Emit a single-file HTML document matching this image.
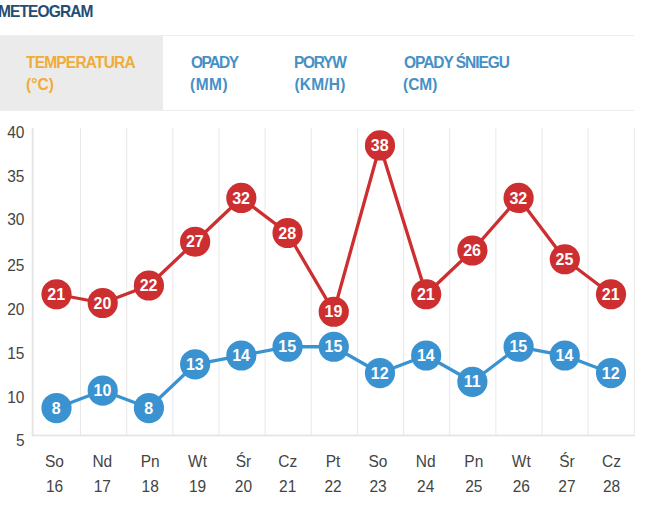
<!DOCTYPE html>
<html><head><meta charset="utf-8"><style>
html,body{margin:0;padding:0;}
body{width:650px;height:508px;overflow:hidden;background:#fff;position:relative;font-family:"Liberation Sans",sans-serif;}
.hd{position:absolute;left:-2px;top:1px;transform:scaleY(1.08);transform-origin:0 6px;font-size:15.5px;font-weight:bold;color:#234d74;line-height:20px;letter-spacing:-0.88px;white-space:nowrap;}
.tline{position:absolute;left:0;width:634px;height:1px;background:#ededed;}
.tabbg{position:absolute;left:0;top:35px;width:163px;height:76px;background:#ebebeb;}
.tt{position:absolute;top:50px;font-size:15.5px;font-weight:bold;line-height:22.5px;white-space:nowrap;transform:scaleY(1.07);transform-origin:0 16.4px;}
.or{color:#f0ac36;}
.bl{color:#4790c5;}
svg{position:absolute;left:0;top:0;}
.n{font-family:"Liberation Sans",sans-serif;font-weight:bold;font-size:16px;fill:#fff;text-anchor:middle;}
.yl{position:absolute;left:-0.5px;width:25px;text-align:right;font-size:15.5px;line-height:17px;color:#444;transform:scaleY(1.06);transform-origin:0 13.6px;}
.xl{position:absolute;width:50px;text-align:center;font-size:15.5px;line-height:17px;color:#444;transform:scaleY(1.06);transform-origin:0 13.6px;}
</style></head><body>
<div class="hd">METEOGRAM</div>
<div class="tabbg"></div>
<div class="tline" style="top:35px"></div>
<div class="tline" style="top:110px"></div>
<div class="tt or" style="left:26px;top:51.6px;letter-spacing:-0.8px">TEMPERATURA</div>
<div class="tt or" style="left:26px;top:74px;letter-spacing:0.07px">(°C)</div>
<div class="tt bl" style="left:191px;top:51.6px;letter-spacing:-1.5px">OPADY</div>
<div class="tt bl" style="left:190px;top:74px;letter-spacing:0.47px">(MM)</div>
<div class="tt bl" style="left:294px;top:51.6px;letter-spacing:-1.3px">PORYW</div>
<div class="tt bl" style="left:294.5px;top:74px;letter-spacing:0.2px">(KM/H)</div>
<div class="tt bl" style="left:404px;top:51.6px;letter-spacing:-1.05px">OPADY ŚNIEGU</div>
<div class="tt bl" style="left:403px;top:74px;letter-spacing:0px">(CM)</div>
<svg width="650" height="508">
<line x1="80.50" y1="128" x2="80.50" y2="434.8" stroke="#e8e8e8" stroke-width="1"/>
<line x1="126.65" y1="128" x2="126.65" y2="434.8" stroke="#e8e8e8" stroke-width="1"/>
<line x1="172.80" y1="128" x2="172.80" y2="434.8" stroke="#e8e8e8" stroke-width="1"/>
<line x1="218.95" y1="128" x2="218.95" y2="434.8" stroke="#e8e8e8" stroke-width="1"/>
<line x1="265.10" y1="128" x2="265.10" y2="434.8" stroke="#e8e8e8" stroke-width="1"/>
<line x1="311.25" y1="128" x2="311.25" y2="434.8" stroke="#e8e8e8" stroke-width="1"/>
<line x1="357.40" y1="128" x2="357.40" y2="434.8" stroke="#e8e8e8" stroke-width="1"/>
<line x1="403.55" y1="128" x2="403.55" y2="434.8" stroke="#e8e8e8" stroke-width="1"/>
<line x1="449.70" y1="128" x2="449.70" y2="434.8" stroke="#e8e8e8" stroke-width="1"/>
<line x1="495.85" y1="128" x2="495.85" y2="434.8" stroke="#e8e8e8" stroke-width="1"/>
<line x1="542.00" y1="128" x2="542.00" y2="434.8" stroke="#e8e8e8" stroke-width="1"/>
<line x1="588.15" y1="128" x2="588.15" y2="434.8" stroke="#e8e8e8" stroke-width="1"/>
<line x1="634.30" y1="128" x2="634.30" y2="434.8" stroke="#e8e8e8" stroke-width="1"/>
<rect x="31.7" y="128" width="1.9" height="308.3" fill="#e4e4e4"/>
<rect x="31.7" y="434.6" width="603" height="1.7" fill="#e4e4e4"/>
<polyline points="56.50,294.25 102.71,303.00 148.92,285.50 195.13,241.73 241.34,197.97 287.55,232.98 333.76,311.76 379.97,145.45 426.18,294.25 472.39,250.49 518.60,197.97 564.81,259.24 611.02,294.25" fill="none" stroke="#cd2f30" stroke-width="3.3" stroke-linejoin="round"/>
<circle cx="56.50" cy="294.25" r="15.1" fill="#cd2f30"/>
<text x="56.20" y="299.85" class="n">21</text>
<circle cx="102.71" cy="303.00" r="15.1" fill="#cd2f30"/>
<text x="102.41" y="308.61" class="n">20</text>
<circle cx="148.92" cy="285.50" r="15.1" fill="#cd2f30"/>
<text x="148.62" y="291.10" class="n">22</text>
<circle cx="195.13" cy="241.73" r="15.1" fill="#cd2f30"/>
<text x="194.83" y="247.33" class="n">27</text>
<circle cx="241.34" cy="197.97" r="15.1" fill="#cd2f30"/>
<text x="241.04" y="203.57" class="n">32</text>
<circle cx="287.55" cy="232.98" r="15.1" fill="#cd2f30"/>
<text x="287.25" y="238.58" class="n">28</text>
<circle cx="333.76" cy="311.76" r="15.1" fill="#cd2f30"/>
<text x="333.46" y="317.36" class="n">19</text>
<circle cx="379.97" cy="145.45" r="15.1" fill="#cd2f30"/>
<text x="379.67" y="151.05" class="n">38</text>
<circle cx="426.18" cy="294.25" r="15.1" fill="#cd2f30"/>
<text x="425.88" y="299.85" class="n">21</text>
<circle cx="472.39" cy="250.49" r="15.1" fill="#cd2f30"/>
<text x="472.09" y="256.09" class="n">26</text>
<circle cx="518.60" cy="197.97" r="15.1" fill="#cd2f30"/>
<text x="518.30" y="203.57" class="n">32</text>
<circle cx="564.81" cy="259.24" r="15.1" fill="#cd2f30"/>
<text x="564.51" y="264.84" class="n">25</text>
<circle cx="611.02" cy="294.25" r="15.1" fill="#cd2f30"/>
<text x="610.72" y="299.85" class="n">21</text>
<polyline points="56.50,408.04 102.71,390.54 148.92,408.04 195.13,364.28 241.34,355.52 287.55,346.77 333.76,346.77 379.97,373.03 426.18,355.52 472.39,381.78 518.60,346.77 564.81,355.52 611.02,373.03" fill="none" stroke="#3a93d0" stroke-width="3.3" stroke-linejoin="round"/>
<circle cx="56.50" cy="408.04" r="15.1" fill="#3a93d0"/>
<text x="56.20" y="413.64" class="n">8</text>
<circle cx="102.71" cy="390.54" r="15.1" fill="#3a93d0"/>
<text x="102.41" y="396.14" class="n">10</text>
<circle cx="148.92" cy="408.04" r="15.1" fill="#3a93d0"/>
<text x="148.62" y="413.64" class="n">8</text>
<circle cx="195.13" cy="364.28" r="15.1" fill="#3a93d0"/>
<text x="194.83" y="369.88" class="n">13</text>
<circle cx="241.34" cy="355.52" r="15.1" fill="#3a93d0"/>
<text x="241.04" y="361.12" class="n">14</text>
<circle cx="287.55" cy="346.77" r="15.1" fill="#3a93d0"/>
<text x="287.25" y="352.37" class="n">15</text>
<circle cx="333.76" cy="346.77" r="15.1" fill="#3a93d0"/>
<text x="333.46" y="352.37" class="n">15</text>
<circle cx="379.97" cy="373.03" r="15.1" fill="#3a93d0"/>
<text x="379.67" y="378.63" class="n">12</text>
<circle cx="426.18" cy="355.52" r="15.1" fill="#3a93d0"/>
<text x="425.88" y="361.12" class="n">14</text>
<circle cx="472.39" cy="381.78" r="15.1" fill="#3a93d0"/>
<text x="472.09" y="387.38" class="n">11</text>
<circle cx="518.60" cy="346.77" r="15.1" fill="#3a93d0"/>
<text x="518.30" y="352.37" class="n">15</text>
<circle cx="564.81" cy="355.52" r="15.1" fill="#3a93d0"/>
<text x="564.51" y="361.12" class="n">14</text>
<circle cx="611.02" cy="373.03" r="15.1" fill="#3a93d0"/>
<text x="610.72" y="378.63" class="n">12</text>
</svg>
<div class="yl" style="top:124.2px">40</div><div class="yl" style="top:167.9px">35</div><div class="yl" style="top:211.2px">30</div><div class="yl" style="top:256.6px">25</div><div class="yl" style="top:300.8px">20</div><div class="yl" style="top:344.7px">15</div><div class="yl" style="top:388.6px">10</div><div class="yl" style="top:432.1px">5</div>
<div class="xl" style="left:29.5px;top:452.5px">So</div><div class="xl" style="left:29.5px;top:478px">16</div><div class="xl" style="left:77.3px;top:452.5px">Nd</div><div class="xl" style="left:77.3px;top:478px">17</div><div class="xl" style="left:125.2px;top:452.5px">Pn</div><div class="xl" style="left:125.2px;top:478px">18</div><div class="xl" style="left:172.5px;top:452.5px">Wt</div><div class="xl" style="left:172.5px;top:478px">19</div><div class="xl" style="left:218.4px;top:452.5px">Śr</div><div class="xl" style="left:218.4px;top:478px">20</div><div class="xl" style="left:262.7px;top:452.5px">Cz</div><div class="xl" style="left:262.7px;top:478px">21</div><div class="xl" style="left:308.1px;top:452.5px">Pt</div><div class="xl" style="left:308.1px;top:478px">22</div><div class="xl" style="left:353.0px;top:452.5px">So</div><div class="xl" style="left:353.0px;top:478px">23</div><div class="xl" style="left:400.7px;top:452.5px">Nd</div><div class="xl" style="left:400.7px;top:478px">24</div><div class="xl" style="left:448.8px;top:452.5px">Pn</div><div class="xl" style="left:448.8px;top:478px">25</div><div class="xl" style="left:496.3px;top:452.5px">Wt</div><div class="xl" style="left:496.3px;top:478px">26</div><div class="xl" style="left:541.9px;top:452.5px">Śr</div><div class="xl" style="left:541.9px;top:478px">27</div><div class="xl" style="left:586.6px;top:452.5px">Cz</div><div class="xl" style="left:586.6px;top:478px">28</div>
</body></html>
